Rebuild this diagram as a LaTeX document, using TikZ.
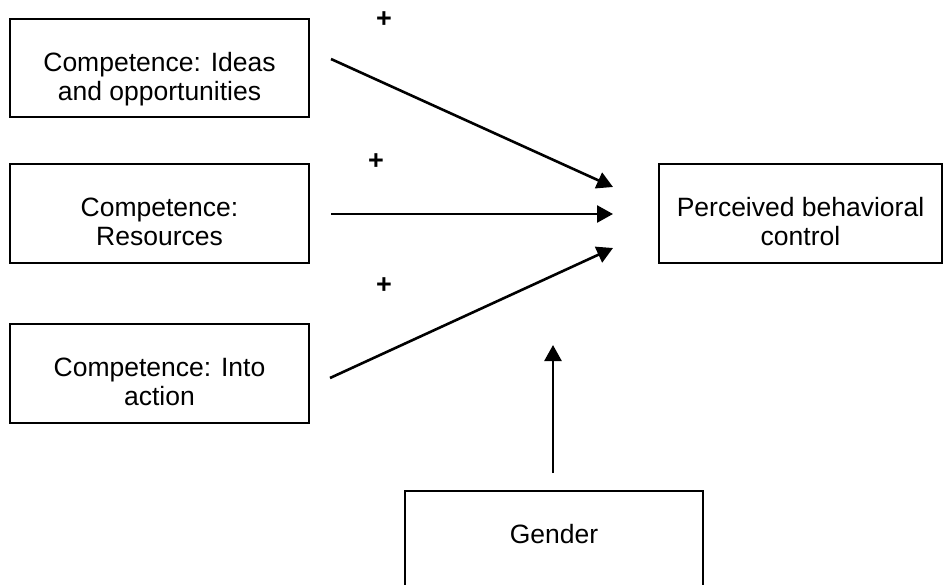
\documentclass[tikz,border=0pt]{standalone}
\usepackage{fontspec}
\setmainfont{Liberation Sans}
\usetikzlibrary{arrows.meta}
\begin{document}
\begin{tikzpicture}[x=1pt,y=-1pt,
  box/.style={draw=black, line width=1.3pt, inner sep=0pt},
  lbl/.style={inner sep=0pt, anchor=base, font=\fontsize{26.5}{30}\selectfont},
  plus/.style={inner sep=0pt, font=\fontsize{27}{30}\selectfont\bfseries},
  conn/.style={line width=2.6pt, -{Triangle[length=16pt,width=17pt]}}]
\useasboundingbox (0,0) rectangle (947,584);
% boxes
\node[box, minimum width=299pt, minimum height=98pt] (ideas) at (159.5,68) {};
\node[box, minimum width=299pt, minimum height=99pt] (res) at (159.5,213.5) {};
\node[box, minimum width=299pt, minimum height=99pt] (into) at (159.5,373.5) {};
\node[box, minimum width=283pt, minimum height=99pt] (pbc) at (800.5,213.5) {};
\node[box, minimum width=298pt, minimum height=98pt] (gbox) at (554,540) {};
% texts
\node[lbl] (ideasA) at (159.5,71) {Competence: Ideas};
\node[lbl] (ideasB) at (159.5,100) {and opportunities};
\node[lbl] (resA) at (159.5,216) {Competence:};
\node[lbl] (resB) at (159.5,245) {Resources};
\node[lbl] (intoA) at (159.5,376) {Competence: Into};
\node[lbl] (intoB) at (159.5,405) {action};
\node[lbl] (pbcA) at (800.5,216) {Perceived behavioral};
\node[lbl] (pbcB) at (800.5,245) {control};
\node[lbl] (gtext) at (554,543) {Gender};
% signs
\node[plus] (p1) at (384,20) {+};
\node[plus] (p2) at (376,162) {+};
\node[plus] (p3) at (384,286) {+};
% connectors
\coordinate (s1) at (331,59);
\coordinate (e1) at (613,187);
\coordinate (s2) at (331,214);
\coordinate (e2) at (613,214);
\coordinate (s3) at (330,378);
\coordinate (e3) at (613,248);
\coordinate (s4) at (553,473);
\coordinate (e4) at (553,345);
\draw[conn] (s1) -- (e1);
\draw[conn] (s2) -- (e2);
\draw[conn] (s3) -- (e3);
\draw[conn] (s4) -- (e4);
\end{tikzpicture}
\end{document}
